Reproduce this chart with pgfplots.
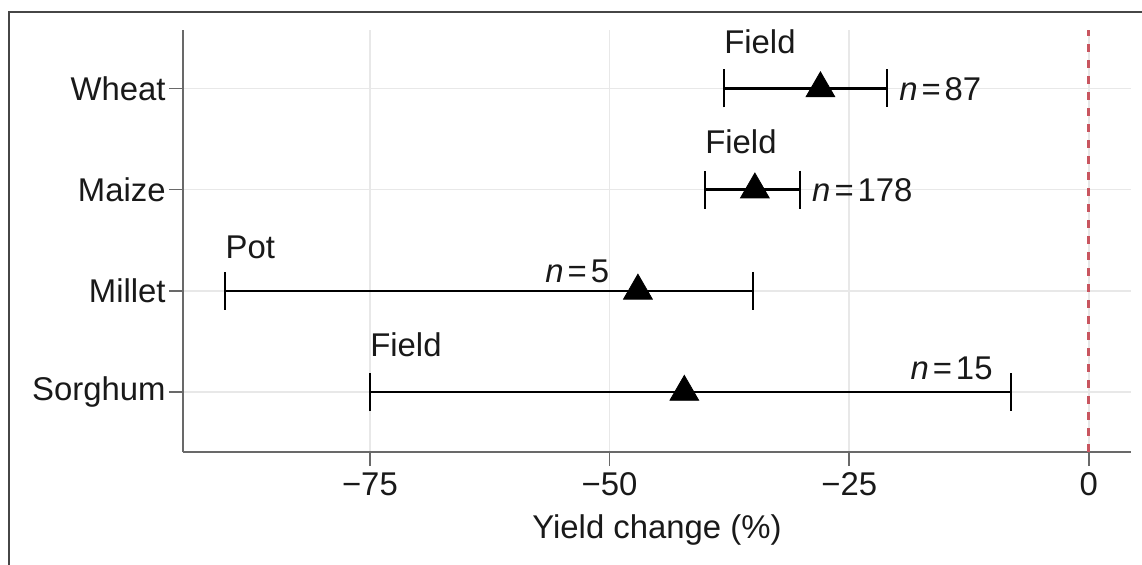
\documentclass[border=0pt]{standalone}
\usepackage{fontspec}
\setmainfont{Liberation Sans}
\usepackage{pgfplots}
\pgfplotsset{compat=1.18}
\definecolor{zerored}{RGB}{200,85,95}
\definecolor{gridc}{RGB}{232,232,232}
\definecolor{axc}{RGB}{105,105,105}
\definecolor{txt}{RGB}{25,25,25}
\definecolor{framec}{RGB}{70,70,70}
\newcommand{\fs}{\fontsize{16.5}{19}\selectfont}
\newcommand{\nl}[1]{\textit{n}\kern2bp=\kern2bp#1}
\begin{document}
\begin{tikzpicture}
\useasboundingbox (-91.5bp,-56.5bp) rectangle (479.5bp,226bp);
\draw[line width=1.1bp, color=framec] (-87bp,-80bp) -- (-87bp,220bp) -- (520bp,220bp);
\begin{axis}[at={(0,0)}, anchor=south west, scale only axis,
  width=474bp, height=211bp,
  xmin=-94.5, xmax=4.4, ymin=0.407, ymax=4.578,
  axis lines=left, axis line style={draw=axc, line width=0.8bp, -},
  xtick={-75,-50,-25,0}, xticklabels={−75,−50,−25,0},
  ytick={1,2,3,4}, yticklabels={Sorghum,Millet,Maize,Wheat},
  grid=major, major grid style={gridc, line width=0.7bp},
  tick align=outside, major tick length=7bp, tick style={axc, line width=0.8bp},
  tick label style={font=\fs, color=txt},
  yticklabel style={inner sep=1.5bp},
  xlabel={Yield change (\%)}, xlabel style={font=\fs, color=txt, yshift=-2.5bp},
  clip=false,
]
\addplot[zerored, line width=1.4bp, dash pattern=on 4bp off 4bp] coordinates {(0,0.407) (0,4.578)};
\addplot[only marks, mark=triangle*, mark size=8.3bp, black,
  error bars/.cd, x dir=both, x explicit,
  error bar style={line width=1.3bp, black},
  error mark options={line width=1.3bp, mark size=9.5bp, black, rotate=90}]
  coordinates {
  (-28.0,4) += (6.93,0) -= (10.07,0)
  (-34.84,3) += (4.69,0) -= (5.21,0)
  (-47.04,2) += (11.99,0) -= (43.06,0)
  (-42.2,1) += (34.1,0) -= (32.8,0)
  };
\node[anchor=base west, inner sep=0, font=\fs, color=txt] at (axis cs:-38.07,4) [yshift=17.5bp] {Field};
\node[anchor=base west, inner sep=0, font=\fs, color=txt] at (axis cs:-21.07,4) [xshift=6bp, yshift=-6bp] {\nl{87}};
\node[anchor=base west, inner sep=0, font=\fs, color=txt] at (axis cs:-40.05,3) [yshift=18bp] {Field};
\node[anchor=base west, inner sep=0, font=\fs, color=txt] at (axis cs:-30.15,3) [xshift=6bp, yshift=-6bp] {\nl{178}};
\node[anchor=base west, inner sep=0, font=\fs, color=txt] at (axis cs:-90.1,2) [yshift=16bp] {Pot};
\node[anchor=base east, inner sep=0, font=\fs, color=txt] at (axis cs:-50,2) [yshift=4.2bp] {\nl{5}};
\node[anchor=base west, inner sep=0, font=\fs, color=txt] at (axis cs:-75,1) [yshift=18bp] {Field};
\node[anchor=base east, inner sep=0, font=\fs, color=txt] at (axis cs:-10,1) [yshift=6.3bp] {\nl{15}};
\end{axis}
\end{tikzpicture}
\end{document}
